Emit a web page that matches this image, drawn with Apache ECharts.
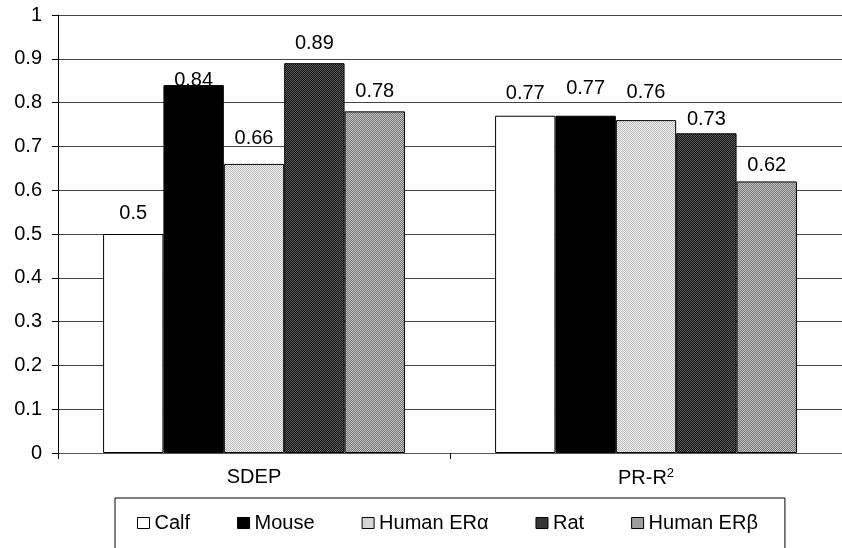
<!DOCTYPE html>
<html>
<head>
<meta charset="utf-8">
<script src="https://cdn.jsdelivr.net/npm/echarts@6/dist/echarts.min.js"></script>
<style>
  html, body { margin: 0; padding: 0; background: #fff; }
  #chart { width: 842px; height: 548px; }
</style>
</head>
<body>
<div id="chart"></div>
<script>
// Model validation statistics per receptor
const categories = ['SDEP', 'PR-R2'];
const seriesNames = ['Calf', 'Mouse', 'Human ERα', 'Rat', 'Human ERβ'];
const calf = [0.5, 0.77];
const mouse = [0.84, 0.77];
const humanERa = [0.66, 0.76];
const rat = [0.89, 0.73];
const humanERb = [0.78, 0.62];
const yTickLabels = ['0', '0.1', '0.2', '0.3', '0.4', '0.5', '0.6', '0.7', '0.8', '0.9', '1'];

// Hand-placed value labels: gap (px) between each bar top and its label
const labelLift = [
  [11, 12],
  [-5, 17],
  [15, 18],
  [10, 4],
  [10, 6]
];

// Small checkerboard textures for the hatched fills
function checker(a, b) {
  const c = document.createElement('canvas');
  c.width = 2; c.height = 2;
  const ctx = c.getContext('2d');
  ctx.fillStyle = a; ctx.fillRect(0, 0, 2, 2);
  ctx.fillStyle = b; ctx.fillRect(0, 0, 1, 1); ctx.fillRect(1, 1, 1, 1);
  return { image: c, repeat: 'repeat' };
}

const fills = [
  '#ffffff',
  '#000000',
  checker('#f4f4f4', '#b8b8b8'),
  checker('#111111', '#5e5e5e'),
  checker('#7a7a7a', '#c0c0c0')
];
const values = [calf, mouse, humanERa, rat, humanERb];

const font = 'Arial, "Liberation Sans", sans-serif';

const series = seriesNames.map((name, i) => ({
  name: name,
  type: 'bar',
  data: values[i].map((v, j) => ({
    value: v,
    label: { distance: labelLift[i][j] }
  })),
  barCategoryGap: '23%',
  barGap: '0%',
  itemStyle: { color: fills[i], borderColor: '#000', borderWidth: 1 },
  label: {
    show: true,
    position: 'top',
    color: '#000',
    fontFamily: font,
    fontSize: 20
  }
}));

const chart = echarts.init(document.getElementById('chart'));
chart.setOption({
  animation: false,
  backgroundColor: '#fff',
  grid: { left: 58, top: 15, bottom: 95, right: -12 },
  legend: {
    data: seriesNames,
    icon: 'rect',
    left: 115,
    top: 498,
    orient: 'horizontal',
    itemGap: 47,
    itemWidth: 12,
    itemHeight: 11,
    padding: [15, 27, 40, 22],
    borderColor: '#000',
    borderWidth: 1,
    borderRadius: 0,
    textStyle: { fontFamily: font, fontSize: 20, color: '#000' },
    itemStyle: { borderColor: '#000', borderWidth: 1 }
  },
  xAxis: {
    type: 'category',
    data: categories,
    axisLine: { show: true, lineStyle: { color: '#555', width: 1 } },
    axisTick: { show: true, length: 6, inside: false, lineStyle: { color: '#000' } },
    axisLabel: {
      margin: 14,
      fontFamily: font,
      fontSize: 20,
      color: '#000',
      formatter: v => v === 'PR-R2' ? '{n|PR-R}{s|2}' : v,
      rich: {
        n: { fontFamily: font, fontSize: 20, color: '#000' },
        s: { fontFamily: font, fontSize: 13, color: '#000', verticalAlign: 'top', padding: [0, 0, 10, 0] }
      }
    }
  },
  yAxis: {
    type: 'value',
    min: 0,
    max: 1,
    interval: 0.1,
    axisLine: { show: true, lineStyle: { color: '#000', width: 1 } },
    axisTick: { show: true, length: 6, lineStyle: { color: '#000' } },
    axisLabel: {
      margin: 16,
      fontFamily: font,
      fontSize: 20,
      color: '#000',
      formatter: (v) => yTickLabels[Math.round(v * 10)]
    },
    splitLine: { show: true, lineStyle: { color: '#444', width: 1 } }
  },
  series: series
});
</script>
</body>
</html>
